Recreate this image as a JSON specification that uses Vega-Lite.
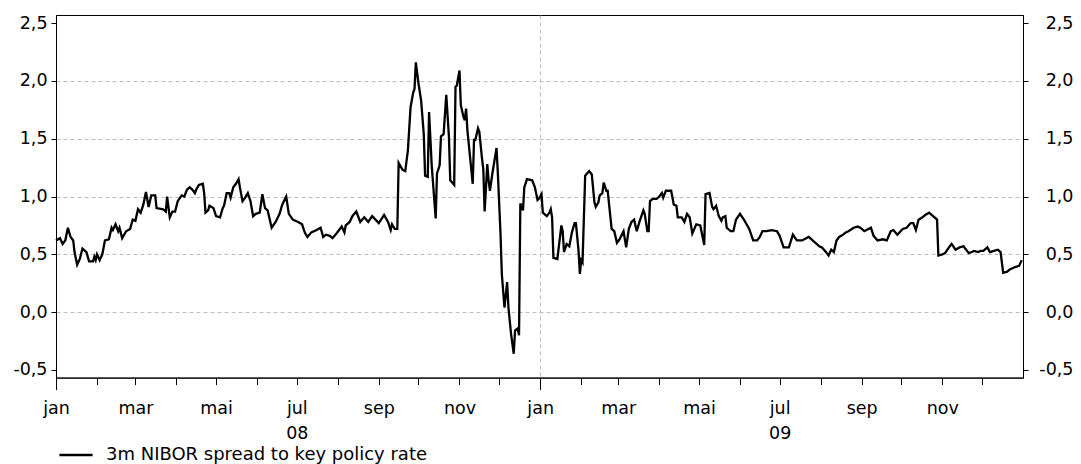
{
  "$schema": "https://vega.github.io/schema/vega-lite/v6.json",
  "width": 967,
  "height": 362.6,
  "autosize": "none",
  "padding": {"left": 56, "top": 15, "right": 58, "bottom": 86},
  "background": "white",
  "config": {"view": {"stroke": "#000", "strokeWidth": 1}, "font": "DejaVu Sans"},
  "data": {"values": [
    {"d":"2008-01-01","v":0.62},{"d":"2008-01-04","v":0.64},{"d":"2008-01-06","v":0.59},{"d":"2008-01-08","v":0.62},{"d":"2008-01-10","v":0.73},{"d":"2008-01-12","v":0.65},{"d":"2008-01-14","v":0.62},{"d":"2008-01-15","v":0.52},{"d":"2008-01-17","v":0.41},{"d":"2008-01-19","v":0.46},{"d":"2008-01-21","v":0.55},{"d":"2008-01-24","v":0.52},{"d":"2008-01-26","v":0.44},{"d":"2008-01-29","v":0.44},{"d":"2008-01-30","v":0.48},{"d":"2008-01-31","v":0.45},
    {"d":"2008-02-01","v":0.50},{"d":"2008-02-03","v":0.45},{"d":"2008-02-05","v":0.50},{"d":"2008-02-07","v":0.62},{"d":"2008-02-10","v":0.63},{"d":"2008-02-12","v":0.73},{"d":"2008-02-13","v":0.71},{"d":"2008-02-15","v":0.76},{"d":"2008-02-17","v":0.70},{"d":"2008-02-18","v":0.73},{"d":"2008-02-20","v":0.64},{"d":"2008-02-23","v":0.70},{"d":"2008-02-26","v":0.72},{"d":"2008-02-28","v":0.80},
    {"d":"2008-03-01","v":0.79},{"d":"2008-03-03","v":0.89},{"d":"2008-03-05","v":0.86},{"d":"2008-03-07","v":0.93},{"d":"2008-03-09","v":1.04},{"d":"2008-03-11","v":0.91},{"d":"2008-03-13","v":1.01},{"d":"2008-03-16","v":1.01},{"d":"2008-03-17","v":0.90},{"d":"2008-03-22","v":0.89},{"d":"2008-03-24","v":0.87},{"d":"2008-03-25","v":1.00},{"d":"2008-03-27","v":0.82},{"d":"2008-03-29","v":0.87},{"d":"2008-03-31","v":0.87},
    {"d":"2008-04-02","v":0.96},{"d":"2008-04-05","v":1.01},{"d":"2008-04-07","v":1.00},{"d":"2008-04-09","v":1.06},{"d":"2008-04-11","v":1.08},{"d":"2008-04-13","v":1.06},{"d":"2008-04-15","v":1.03},{"d":"2008-04-16","v":1.06},{"d":"2008-04-18","v":1.10},{"d":"2008-04-21","v":1.11},{"d":"2008-04-22","v":1.03},{"d":"2008-04-23","v":0.86},{"d":"2008-04-25","v":0.88},{"d":"2008-04-26","v":0.92},{"d":"2008-04-29","v":0.90},
    {"d":"2008-05-01","v":0.83},{"d":"2008-05-04","v":0.82},{"d":"2008-05-06","v":0.90},{"d":"2008-05-07","v":0.92},{"d":"2008-05-09","v":1.03},{"d":"2008-05-11","v":1.03},{"d":"2008-05-12","v":0.99},{"d":"2008-05-14","v":1.08},{"d":"2008-05-16","v":1.11},{"d":"2008-05-18","v":1.15},{"d":"2008-05-19","v":1.08},{"d":"2008-05-21","v":0.96},{"d":"2008-05-23","v":0.99},{"d":"2008-05-25","v":1.03},{"d":"2008-05-27","v":0.96},{"d":"2008-05-29","v":0.83},{"d":"2008-05-31","v":0.85},
    {"d":"2008-06-03","v":0.86},{"d":"2008-06-05","v":1.02},{"d":"2008-06-07","v":0.90},{"d":"2008-06-09","v":0.88},{"d":"2008-06-12","v":0.73},{"d":"2008-06-15","v":0.78},{"d":"2008-06-18","v":0.85},{"d":"2008-06-20","v":0.93},{"d":"2008-06-23","v":1.00},{"d":"2008-06-25","v":0.85},{"d":"2008-06-28","v":0.80},
    {"d":"2008-07-02","v":0.78},{"d":"2008-07-05","v":0.76},{"d":"2008-07-07","v":0.69},{"d":"2008-07-09","v":0.65},{"d":"2008-07-12","v":0.69},{"d":"2008-07-16","v":0.71},{"d":"2008-07-19","v":0.73},{"d":"2008-07-21","v":0.65},{"d":"2008-07-23","v":0.67},{"d":"2008-07-26","v":0.66},{"d":"2008-07-28","v":0.64},{"d":"2008-07-31","v":0.68},
    {"d":"2008-08-02","v":0.71},{"d":"2008-08-04","v":0.74},{"d":"2008-08-06","v":0.69},{"d":"2008-08-07","v":0.75},{"d":"2008-08-10","v":0.78},{"d":"2008-08-12","v":0.83},{"d":"2008-08-15","v":0.87},{"d":"2008-08-18","v":0.78},{"d":"2008-08-21","v":0.82},{"d":"2008-08-24","v":0.78},{"d":"2008-08-27","v":0.83},
    {"d":"2008-09-01","v":0.77},{"d":"2008-09-05","v":0.84},{"d":"2008-09-08","v":0.78},{"d":"2008-09-10","v":0.71},{"d":"2008-09-11","v":0.76},{"d":"2008-09-13","v":0.72},{"d":"2008-09-15","v":0.72},{"d":"2008-09-16","v":1.29},{"d":"2008-09-19","v":1.23},{"d":"2008-09-21","v":1.22},{"d":"2008-09-23","v":1.40},{"d":"2008-09-25","v":1.77},{"d":"2008-09-27","v":1.90},{"d":"2008-09-28","v":1.93},{"d":"2008-09-29","v":2.16},
    {"d":"2008-10-01","v":1.98},{"d":"2008-10-03","v":1.83},{"d":"2008-10-05","v":1.54},{"d":"2008-10-06","v":1.18},{"d":"2008-10-08","v":1.17},{"d":"2008-10-09","v":1.73},{"d":"2008-10-11","v":1.27},{"d":"2008-10-14","v":0.81},{"d":"2008-10-15","v":1.20},{"d":"2008-10-17","v":1.27},{"d":"2008-10-18","v":1.52},{"d":"2008-10-20","v":1.54},{"d":"2008-10-22","v":1.88},{"d":"2008-10-24","v":1.52},{"d":"2008-10-25","v":1.14},{"d":"2008-10-28","v":1.10},{"d":"2008-10-29","v":1.95},{"d":"2008-10-30","v":1.96},
    {"d":"2008-11-01","v":2.09},{"d":"2008-11-02","v":1.79},{"d":"2008-11-04","v":1.69},{"d":"2008-11-05","v":1.66},{"d":"2008-11-06","v":1.76},{"d":"2008-11-07","v":1.57},{"d":"2008-11-09","v":1.34},{"d":"2008-11-11","v":1.11},{"d":"2008-11-12","v":1.49},{"d":"2008-11-13","v":1.49},{"d":"2008-11-15","v":1.59},{"d":"2008-11-16","v":1.56},{"d":"2008-11-18","v":1.33},{"d":"2008-11-19","v":1.24},{"d":"2008-11-20","v":0.87},{"d":"2008-11-22","v":1.28},{"d":"2008-11-23","v":1.14},{"d":"2008-11-24","v":1.05},{"d":"2008-11-26","v":1.21},{"d":"2008-11-29","v":1.42},{"d":"2008-11-30","v":1.20},
    {"d":"2008-12-02","v":0.68},{"d":"2008-12-03","v":0.33},{"d":"2008-12-05","v":0.04},{"d":"2008-12-07","v":0.26},{"d":"2008-12-08","v":0.04},{"d":"2008-12-10","v":-0.19},{"d":"2008-12-12","v":-0.36},{"d":"2008-12-13","v":-0.16},{"d":"2008-12-15","v":-0.14},{"d":"2008-12-16","v":-0.20},{"d":"2008-12-17","v":0.94},{"d":"2008-12-19","v":0.88},{"d":"2008-12-20","v":1.08},{"d":"2008-12-22","v":1.15},{"d":"2008-12-26","v":1.14},{"d":"2008-12-28","v":1.08},{"d":"2008-12-30","v":0.97},{"d":"2008-12-31","v":0.98},
    {"d":"2009-01-02","v":1.02},{"d":"2009-01-03","v":0.86},{"d":"2009-01-06","v":0.83},{"d":"2009-01-08","v":0.86},{"d":"2009-01-09","v":0.89},{"d":"2009-01-10","v":0.82},{"d":"2009-01-11","v":0.47},{"d":"2009-01-14","v":0.46},{"d":"2009-01-17","v":0.75},{"d":"2009-01-18","v":0.70},{"d":"2009-01-19","v":0.52},{"d":"2009-01-21","v":0.59},{"d":"2009-01-23","v":0.57},{"d":"2009-01-25","v":0.69},{"d":"2009-01-27","v":0.77},{"d":"2009-01-28","v":0.77},{"d":"2009-01-30","v":0.53},{"d":"2009-01-31","v":0.33},
    {"d":"2009-02-01","v":0.45},{"d":"2009-02-02","v":0.43},{"d":"2009-02-04","v":1.18},{"d":"2009-02-07","v":1.22},{"d":"2009-02-09","v":1.19},{"d":"2009-02-11","v":0.95},{"d":"2009-02-12","v":0.91},{"d":"2009-02-14","v":0.95},{"d":"2009-02-15","v":1.01},{"d":"2009-02-17","v":1.03},{"d":"2009-02-18","v":1.12},{"d":"2009-02-20","v":1.05},{"d":"2009-02-21","v":1.05},{"d":"2009-02-24","v":0.72},{"d":"2009-02-26","v":0.70},{"d":"2009-02-28","v":0.60},
    {"d":"2009-03-02","v":0.63},{"d":"2009-03-05","v":0.70},{"d":"2009-03-07","v":0.56},{"d":"2009-03-09","v":0.72},{"d":"2009-03-11","v":0.78},{"d":"2009-03-13","v":0.80},{"d":"2009-03-15","v":0.70},{"d":"2009-03-17","v":0.78},{"d":"2009-03-20","v":0.88},{"d":"2009-03-21","v":0.85},{"d":"2009-03-23","v":0.70},{"d":"2009-03-24","v":0.70},{"d":"2009-03-25","v":0.96},{"d":"2009-03-27","v":0.98},{"d":"2009-03-30","v":0.98},
    {"d":"2009-04-01","v":1.00},{"d":"2009-04-03","v":1.03},{"d":"2009-04-04","v":0.99},{"d":"2009-04-06","v":1.05},{"d":"2009-04-10","v":1.05},{"d":"2009-04-12","v":0.93},{"d":"2009-04-14","v":0.92},{"d":"2009-04-15","v":0.82},{"d":"2009-04-18","v":0.82},{"d":"2009-04-20","v":0.78},{"d":"2009-04-22","v":0.85},{"d":"2009-04-24","v":0.82},{"d":"2009-04-26","v":0.68},{"d":"2009-04-29","v":0.76},
    {"d":"2009-05-02","v":0.75},{"d":"2009-05-05","v":0.58},{"d":"2009-05-06","v":1.02},{"d":"2009-05-09","v":1.03},{"d":"2009-05-11","v":0.91},{"d":"2009-05-12","v":0.89},{"d":"2009-05-14","v":0.92},{"d":"2009-05-16","v":0.83},{"d":"2009-05-18","v":0.79},{"d":"2009-05-19","v":0.82},{"d":"2009-05-21","v":0.83},{"d":"2009-05-22","v":0.73},{"d":"2009-05-25","v":0.70},{"d":"2009-05-27","v":0.70},{"d":"2009-05-29","v":0.80},
    {"d":"2009-06-01","v":0.85},{"d":"2009-06-04","v":0.80},{"d":"2009-06-06","v":0.76},{"d":"2009-06-08","v":0.72},{"d":"2009-06-11","v":0.62},{"d":"2009-06-14","v":0.62},{"d":"2009-06-16","v":0.65},{"d":"2009-06-18","v":0.70},{"d":"2009-06-21","v":0.70},{"d":"2009-06-25","v":0.71},{"d":"2009-06-29","v":0.70},
    {"d":"2009-07-01","v":0.66},{"d":"2009-07-04","v":0.56},{"d":"2009-07-08","v":0.56},{"d":"2009-07-11","v":0.67},{"d":"2009-07-14","v":0.62},{"d":"2009-07-18","v":0.62},{"d":"2009-07-23","v":0.65},{"d":"2009-07-27","v":0.61},{"d":"2009-07-31","v":0.57},
    {"d":"2009-08-02","v":0.56},{"d":"2009-08-05","v":0.52},{"d":"2009-08-07","v":0.49},{"d":"2009-08-09","v":0.54},{"d":"2009-08-11","v":0.52},{"d":"2009-08-13","v":0.62},{"d":"2009-08-15","v":0.65},{"d":"2009-08-18","v":0.67},{"d":"2009-08-20","v":0.69},{"d":"2009-08-22","v":0.70},{"d":"2009-08-26","v":0.73},{"d":"2009-08-29","v":0.74},{"d":"2009-08-31","v":0.73},
    {"d":"2009-09-03","v":0.70},{"d":"2009-09-08","v":0.73},{"d":"2009-09-10","v":0.66},{"d":"2009-09-13","v":0.62},{"d":"2009-09-17","v":0.63},{"d":"2009-09-20","v":0.62},{"d":"2009-09-23","v":0.70},{"d":"2009-09-25","v":0.71},{"d":"2009-09-28","v":0.67},
    {"d":"2009-10-02","v":0.72},{"d":"2009-10-05","v":0.73},{"d":"2009-10-08","v":0.77},{"d":"2009-10-10","v":0.77},{"d":"2009-10-12","v":0.71},{"d":"2009-10-14","v":0.80},{"d":"2009-10-17","v":0.82},{"d":"2009-10-19","v":0.84},{"d":"2009-10-22","v":0.86},{"d":"2009-10-23","v":0.85},{"d":"2009-10-25","v":0.83},{"d":"2009-10-28","v":0.80},{"d":"2009-10-29","v":0.49},
    {"d":"2009-11-01","v":0.50},{"d":"2009-11-03","v":0.51},{"d":"2009-11-06","v":0.56},{"d":"2009-11-08","v":0.59},{"d":"2009-11-11","v":0.54},{"d":"2009-11-14","v":0.56},{"d":"2009-11-17","v":0.57},{"d":"2009-11-21","v":0.51},{"d":"2009-11-25","v":0.53},{"d":"2009-11-28","v":0.52},{"d":"2009-11-30","v":0.53},
    {"d":"2009-12-02","v":0.53},{"d":"2009-12-05","v":0.56},{"d":"2009-12-07","v":0.52},{"d":"2009-12-10","v":0.53},{"d":"2009-12-13","v":0.54},{"d":"2009-12-15","v":0.52},{"d":"2009-12-17","v":0.34},{"d":"2009-12-20","v":0.35},{"d":"2009-12-22","v":0.37},{"d":"2009-12-26","v":0.39},{"d":"2009-12-29","v":0.40},{"d":"2009-12-31","v":0.45}
  ]},
  "encoding": {
    "x": {
      "field": "d", "type": "temporal", "title": null,
      "scale": {"type": "utc", "domain": [{"year": 2008, "month": 1, "date": 1, "utc": true}, {"year": 2009, "month": 12, "date": 31, "hours": 23, "utc": true}]},
      "axis": {
        "tickCount": {"interval": "month", "step": 1},
        "labelExpr": "utcmonth(datum.value) % 2 == 1 ? '' : utcmonth(datum.value) == 6 ? ['jul', utcFormat(datum.value, '%y')] : ['jan','feb','mar','apr','mai','jun','jul','aug','sep','okt','nov','des'][utcmonth(datum.value)]",
        "labelOverlap": false, "labelBound": false, "labelFlush": false,
        "labelFont": "DejaVu Sans", "labelFontSize": 17.5, "labelColor": "#000", "labelLineHeight": 25,
        "labelPadding": {"condition": {"test": "utcmonth(datum.value) == 0", "value": 10}, "value": 15},
        "tickSize": {"condition": {"test": "utcmonth(datum.value) == 0", "value": 12}, "value": 7},
        "tickColor": "#000", "domainColor": "#000",
        "grid": true, "gridDash": [4, 3], "gridColor": "#bdbdbd",
        "gridOpacity": {"condition": {"test": "utcmonth(datum.value) == 0 && utcyear(datum.value) == 2009", "value": 1}, "value": 0}
      }
    }
  },
  "layer": [
    {
      "mark": {"type": "line", "strokeWidth": 2.3},
      "encoding": {
        "y": {
          "field": "v", "type": "quantitative", "title": null,
          "scale": {"domain": [-0.566, 2.57], "nice": false, "zero": false},
          "axis": {
            "orient": "left", "values": [-0.5, 0, 0.5, 1, 1.5, 2, 2.5],
            "labelExpr": "(datum.value < 0 ? '-' : '') + replace(format(abs(datum.value), '.1f'), '.', ',')",
            "labelFont": "DejaVu Sans", "labelFontSize": 17.5, "labelColor": "#000",
            "tickSize": 5, "labelPadding": 4, "tickColor": "#000", "domainColor": "#000",
            "grid": true, "gridDash": [4, 3], "gridColor": "#bdbdbd",
            "gridOpacity": {"condition": {"test": "datum.value < -0.4 || datum.value > 2.4", "value": 0}, "value": 1}
          }
        },
        "color": {
          "datum": "3m NIBOR spread to key policy rate",
          "scale": {"range": ["#000000"]},
          "legend": {
            "orient": "none", "legendX": 2, "legendY": 422, "title": null, "padding": 0,
            "symbolType": "stroke", "symbolSize": 1100, "symbolStrokeWidth": 2.5,
            "labelFont": "DejaVu Sans", "labelFontSize": 18, "labelColor": "#000", "labelOffset": 12, "labelLimit": 600
          }
        }
      }
    },
    {
      "mark": {"type": "line", "strokeOpacity": 0},
      "encoding": {
        "y": {
          "field": "v", "type": "quantitative", "title": null,
          "axis": {
            "orient": "right", "values": [-0.5, 0, 0.5, 1, 1.5, 2, 2.5],
            "labelExpr": "(datum.value < 0 ? '-' : '') + replace(format(abs(datum.value), '.1f'), '.', ',')",
            "labelFont": "DejaVu Sans", "labelFontSize": 17.5, "labelColor": "#000", "labelAlign": "right",
            "tickSize": 5, "labelPadding": 45, "tickColor": "#000", "domainColor": "#000", "grid": false
          }
        }
      }
    }
  ],
  "resolve": {"axis": {"y": "independent"}}
}
